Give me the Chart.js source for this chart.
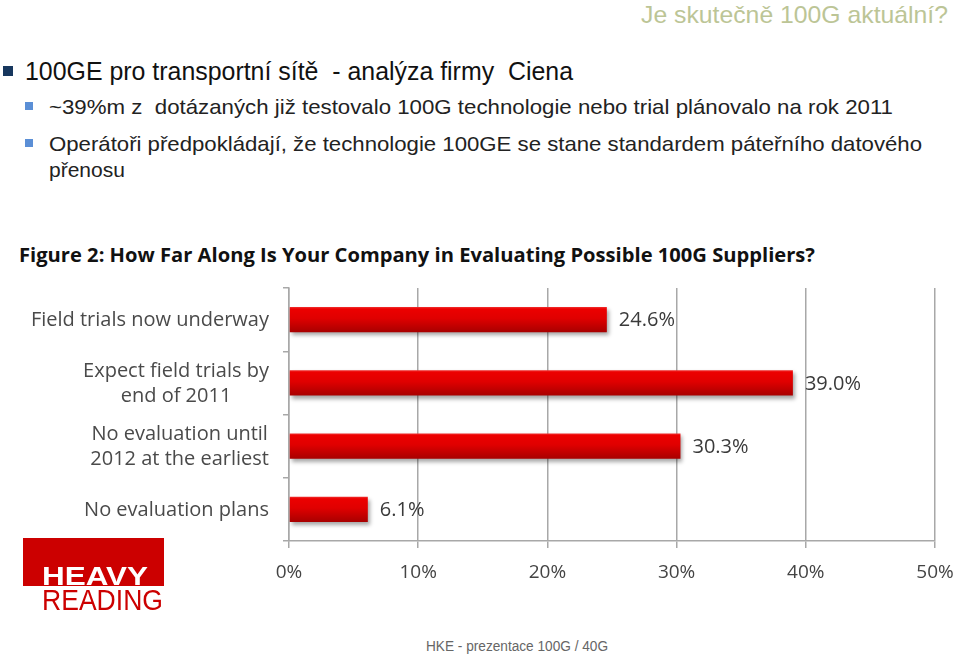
<!DOCTYPE html>
<html>
<head>
<meta charset="utf-8">
<script src="https://cdn.jsdelivr.net/npm/chart.js@4.4.1/dist/chart.umd.min.js"></script>
<style>
  html, body { margin: 0; padding: 0; background: #fff; }
  body { width: 960px; height: 656px; position: relative; overflow: hidden; font-family: "Liberation Sans", Arial, sans-serif; }
  .t { position: absolute; white-space: pre; display: inline-block; transform-origin: 0 0; }
  .sq { position: absolute; }
  #wrap { position: absolute; left: 0; top: 230px; width: 960px; height: 371px; }
</style>
</head>
<body>
<div class="t" data-w="307" style="left:641px; top:3px; font-size:24px; line-height:24px; color:#bcc596;">Je skutečně 100G aktuální?</div>

<div class="sq" style="left:3px; top:66px; width:10px; height:10px; background:#17375e;"></div>
<div class="t" data-w="548" style="left:25px; top:58px; font-size:26px; line-height:26px; color:#111;">100GE pro transportní sítě  - analýza firmy  Ciena</div>

<div class="sq" style="left:25px; top:102px; width:8px; height:8px; background:#5b8fd6;"></div>
<div class="t" data-w="844" style="left:49px; top:96px; font-size:21px; line-height:21px; color:#222;">~39%m z  dotázaných již testovalo 100G technologie nebo trial plánovalo na rok 2011</div>

<div class="sq" style="left:25px; top:139px; width:8px; height:8px; background:#5b8fd6;"></div>
<div class="t" data-w="873" style="left:49px; top:133px; font-size:21px; line-height:21px; color:#222;">Operátoři předpokládají, že technologie 100GE se stane standardem páteřního datového</div>
<div class="t" style="left:49px; top:159px; font-size:21px; line-height:21px; color:#222;">přenosu</div>

<div class="t" data-w="796" style="left:19px; top:246px; font-family:'Open Sans'; font-weight:bold; font-size:19px; line-height:19px; color:#111;">Figure 2: How Far Along Is Your Company in Evaluating Possible 100G Suppliers?</div>

<div id="wrap"><canvas id="c" width="960" height="371"></canvas></div>

<div class="sq" style="left:23px; top:538px; width:141px; height:48px; background:#cc0000;"></div>
<div class="t" data-w="106" style="left:42px; top:564px; font-weight:bold; font-size:25px; line-height:25px; color:#fff;">HEAVY</div>
<div class="t" data-w="121" style="left:42px; top:585px; font-size:30px; line-height:30px; color:#cc0000;">READING</div>

<div class="t" data-w="182" style="left:426px; top:639px; font-size:14px; line-height:14px; color:#666;">HKE - prezentace 100G / 40G</div>

<script>
// ---- data ----
const categories = [
  ['Field trials now underway'],
  ['Expect field trials by', 'end of 2011'],
  ['No evaluation until', '2012 at the earliest'],
  ['No evaluation plans']
];
const values = [24.6, 39.0, 30.3, 6.1];
const valueLabels = ['24.6%', '39.0%', '30.3%', '6.1%'];
const xTicks = [0, 10, 20, 30, 40, 50];
const xTickLabels = ['0%', '10%', '20%', '30%', '40%', '50%'];

// fit text widths
document.querySelectorAll('.t[data-w]').forEach(el => {
  const w = el.getBoundingClientRect().width;
  const target = parseFloat(el.dataset.w);
  if (w > 0) el.style.transform = 'scaleX(' + (target / w) + ')';
});

const LABEL_FONT = '20px "Open Sans"';
const GRID = '#a8a8a8';

const shadowPlugin = {
  id: 'barShadow',
  beforeDatasetsDraw(chart) {
    const c = chart.ctx;
    c.save();
    c.shadowColor = 'rgba(0,0,0,0.35)';
    c.shadowOffsetX = 2;
    c.shadowOffsetY = 3;
    c.shadowBlur = 4;
  },
  afterDatasetsDraw(chart) {
    chart.ctx.restore();
    const c = chart.ctx;
    const meta = chart.getDatasetMeta(0);
    c.save();
    c.font = LABEL_FONT;
    c.fillStyle = '#3a3a3a';
    c.textAlign = 'left';
    c.textBaseline = 'middle';
    meta.data.forEach((bar, i) => {
      c.fillText(valueLabels[i], bar.x + 12, bar.y + 1);
    });
    c.restore();
  }
};

const catLabelPlugin = {
  id: 'catLabels',
  afterDraw(chart) {
    const c = chart.ctx;
    const ys = chart.scales.y;
    c.save();
    c.font = LABEL_FONT;
    c.fillStyle = '#4a4a4a';
    c.textAlign = 'center';
    c.textBaseline = 'middle';
    const right = ys.right - 20;
    const lh = 25;
    categories.forEach((lines, i) => {
      const yc = ys.getPixelForValue(i);
      const maxW = Math.max(...lines.map(l => c.measureText(l).width));
      const cx = right - maxW / 2;
      const y0 = yc - (lines.length - 1) * lh / 2;
      lines.forEach((l, j) => c.fillText(l, cx, y0 + j * lh + 1));
    });
    c.restore();
  }
};

function barGradient(ctx) {
  const chart = ctx.chart;
  const ys = chart.scales && chart.scales.y;
  if (!chart.chartArea || !ys) return '#d80000';
  const yc = ys.getPixelForValue(ctx.dataIndex);
  const half = ys.getPixelForValue(1) - ys.getPixelForValue(0);
  const h = Math.abs(half) * 0.4 / 2;
  const g = chart.ctx.createLinearGradient(0, yc - h, 0, yc + h);
  g.addColorStop(0, '#f03030');
  g.addColorStop(0.08, '#ec0000');
  g.addColorStop(0.45, '#e00000');
  g.addColorStop(1, '#a80000');
  return g;
}

new Chart(document.getElementById('c'), {
  type: 'bar',
  data: {
    labels: categories,
    datasets: [{
      data: values,
      backgroundColor: barGradient,
      borderWidth: 0,
      categoryPercentage: 0.5,
      barPercentage: 0.8
    }]
  },
  options: {
    indexAxis: 'y',
    responsive: false,
    animation: false,
    devicePixelRatio: 1,
    layout: { padding: { left: 19, right: 25, top: 58, bottom: 0 } },
    plugins: { legend: { display: false }, tooltip: { enabled: false }, title: { display: false } },
    scales: {
      x: {
        min: 0, max: 50,
        afterBuildTicks(scale) { scale.ticks = xTicks.map(v => ({ value: v })); },
        afterFit(scale) { scale.height = 60; scale.paddingLeft = 0; scale.paddingRight = 0; },
        ticks: {
          callback: (v, i) => xTickLabels[i],
          font: { family: 'Open Sans', size: 19 },
          color: '#444',
          padding: 13,
          maxRotation: 0
        },
        grid: { color: GRID, lineWidth: 1.5, tickLength: 7, drawOnChartArea: true },
        border: { display: true, color: GRID, width: 1.5 }
      },
      y: {
        afterFit(scale) { scale.width = 270; scale.paddingTop = 0; scale.paddingBottom = 0; },
        ticks: { display: false },
        grid: { display: true, drawOnChartArea: false, offset: true, color: GRID, lineWidth: 1.5, tickLength: 6 },
        border: { display: true, color: GRID, width: 1.5 }
      }
    }
  },
  plugins: [shadowPlugin, catLabelPlugin]
});
</script>
</body>
</html>
